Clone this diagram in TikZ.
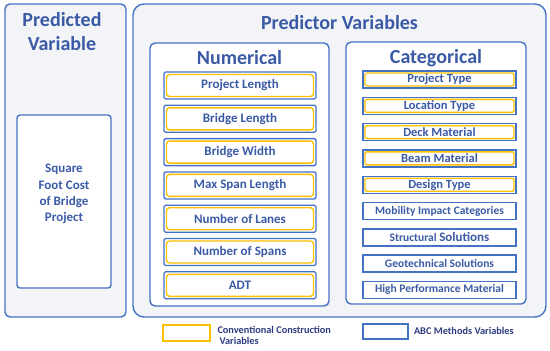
\documentclass[tikz,border=0pt]{standalone}
\usepackage{fontspec}
\setmainfont{Carlito}
\definecolor{bblue}{HTML}{4472C4}
\definecolor{tblue}{HTML}{3A5AA6}
\definecolor{yel}{HTML}{FFC000}
\definecolor{bgfill}{HTML}{F2F4F8}
\definecolor{navy}{HTML}{2E3A7E}
\begin{document}
\begin{tikzpicture}[x=1pt,y=-1pt,
  every node/.style={inner sep=0pt, outer sep=0pt},
  panel/.style={draw=bblue, line width=1.4pt, fill=bgfill, rounded corners=5pt},
  bigpanel/.style={draw=bblue, line width=1.4pt, fill=bgfill, rounded corners=11pt},
  subpanel/.style={draw=bblue, line width=1.4pt, fill=white, rounded corners=5pt},
  title/.style={text=tblue, font=\fontsize{20}{24}\selectfont\bfseries},
  numout/.style={draw=bblue, line width=1.3pt, fill=white, rounded corners=1.5pt, minimum width=152pt, minimum height=27pt},
  numin/.style={draw=yel, line width=1.4pt, fill=white, rounded corners=3pt, minimum width=147pt, minimum height=22pt, text=tblue, font=\fontsize{13}{15}\selectfont\bfseries},
  catout/.style={draw=bblue, line width=1.4pt, fill=white, minimum width=153pt, minimum height=17pt},
  catin/.style={draw=yel, line width=1.4pt, fill=white, rounded corners=1.5pt, minimum width=149pt, minimum height=13pt, text=tblue, font=\fontsize{12.5}{14}\selectfont\bfseries},
  catblue/.style={draw=bblue, line width=1.4pt, fill=white, minimum width=153pt, minimum height=17pt, text=tblue, font=\fontsize{11.5}{13}\selectfont\bfseries},
  legtext/.style={text=navy, font=\fontsize{10.3}{11}\selectfont\bfseries, align=left}
]
\useasboundingbox (0,0) rectangle (550,351);

% Predicted variable panel
\node[panel, minimum width=121pt, minimum height=313pt] (predpanel) at (65.5,160.5) {};
\node[title, anchor=base] (predtitle1) at (62,26) {Predicted};
\node[title, anchor=base] (predtitle2) at (62,50.5) {Variable};
\node[draw=bblue, line width=1.4pt, fill=white, rounded corners=3pt, minimum width=94pt, minimum height=173pt] (sqbox) at (64,201.5) {};
\node[text=tblue, font=\fontsize{13}{16.3}\selectfont\bfseries, align=center] (sqtext) at (64,194) {Square\\Foot Cost\\of Bridge\\Project};

% Predictor variables panel
\node[bigpanel, minimum width=413pt, minimum height=313pt] (predictors) at (339.5,160.5) {};
\node[title, anchor=base] (predtitle) at (339.5,29) {Predictor Variables};

% Numerical
\node[subpanel, minimum width=179pt, minimum height=263pt] (numpanel) at (239.5,174.5) {};
\node[title, anchor=base] (numtitle) at (239.5,64.3) {Numerical};
\foreach \i/\t in {0/Project Length,1/Bridge Length,2/Bridge Width,3/Max Span Length,4/Number of Lanes,5/Number of Spans,6/ADT}{
  \node[numout] (num\i) at (240,85.5+33.3*\i) {};
  \node[numin] (numt\i) at (num\i) {\t};
}

% Categorical
\node[subpanel, minimum width=180pt, minimum height=262pt] (catpanel) at (436,173) {};
\node[title, anchor=base] (cattitle) at (436,63.3) {Categorical};
\foreach \i/\t in {0/Project Type,1/Location Type,2/Deck Material,3/Beam Material,4/Design Type}{
  \node[catout] (cat\i) at (439.5,79.5+26.3*\i) {};
  \node[catin] (catt\i) at (cat\i) {\t};
}
\foreach \i/\t in {5/Mobility Impact Categories,6/{Structural {\fontsize{13}{14}\selectfont Solutions}},7/Geotechnical Solutions,8/High Performance Material}{
  \node[catblue] (cat\i) at (439.5,79.5+26.3*\i) {\t};
}

% Legend
\node[draw=yel, line width=1.4pt, fill=white, minimum width=47pt, minimum height=16pt] (legyel) at (186.5,333) {};
\node[legtext, anchor=north west] (legyeltext) at (217.5,326.5) {Conventional Construction\\\hspace*{2pt}Variables};
\node[draw=bblue, line width=1.4pt, fill=white, minimum width=45pt, minimum height=15pt] (legblue) at (385.5,331.5) {};
\node[legtext, anchor=base west] (legbluetext) at (414,334) {ABC Methods Variables};
\end{tikzpicture}
\end{document}
